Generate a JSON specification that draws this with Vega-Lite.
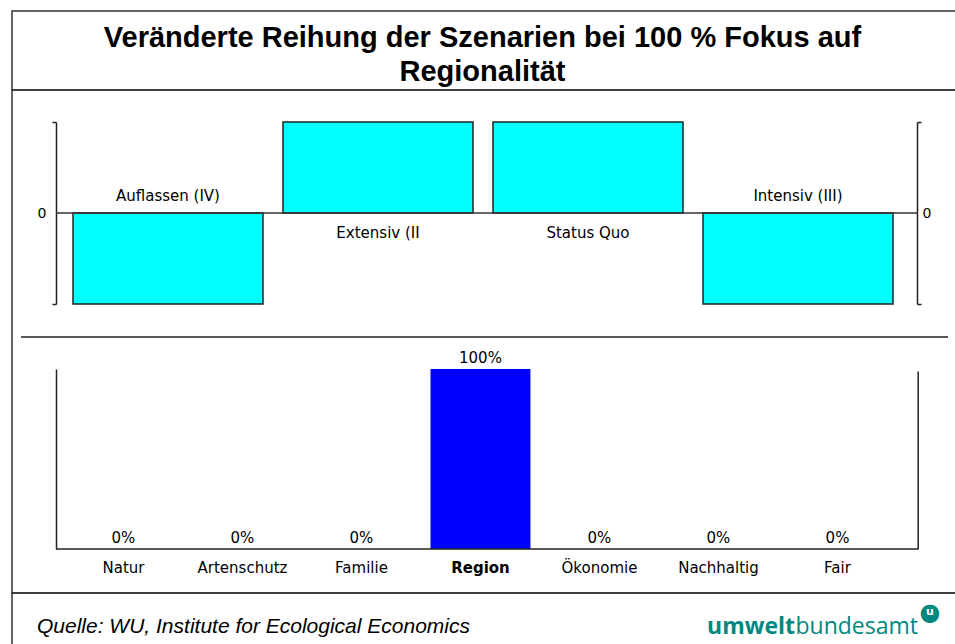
{
  "$schema": "https://vega.github.io/schema/vega-lite/v6.json",
  "padding": {"left": 11, "top": 10, "right": 0, "bottom": 0},
  "background": "white",
  "spacing": 0,
  "bounds": "flush",
  "config": {"view": {"stroke": "#333", "strokeWidth": 1.5}, "font": "DejaVu Sans"},
  "datasets": {
    "scen": [
      {"scenario": "Auflassen (IV)", "value": -1},
      {"scenario": "Extensiv (II", "value": 1},
      {"scenario": "Status Quo", "value": 1},
      {"scenario": "Intensiv (III)", "value": -1}
    ],
    "crit": [
      {"criterion": "Natur", "value": 0},
      {"criterion": "Artenschutz", "value": 0},
      {"criterion": "Familie", "value": 0},
      {"criterion": "Region", "value": 1},
      {"criterion": "Ökonomie", "value": 0},
      {"criterion": "Nachhaltig", "value": 0},
      {"criterion": "Fair", "value": 0}
    ]
  },
  "vconcat": [
    {
      "width": 950,
      "height": 79,
      "data": {"values": [{"title": ["Veränderte Reihung der Szenarien bei 100 % Fokus auf", "Regionalität"]}]},
      "mark": {"type": "text", "font": "Liberation Sans", "fontWeight": "bold", "fontSize": 29, "lineHeight": 34, "baseline": "middle", "align": "center", "dx": -4.5, "dy": -12.5, "color": "#000"},
      "encoding": {
        "x": {"datum": 0.5, "type": "quantitative", "scale": {"domain": [0, 1], "range": [0, 950]}, "axis": null},
        "text": {"field": "title"}
      }
    },
    {
      "width": 950,
      "height": 503,
      "resolve": {"scale": {"x": "independent", "y": "independent"}},
      "layer": [
        {
          "data": {"name": "scen"},
          "encoding": {
            "x": {"field": "scenario", "type": "nominal", "sort": null, "scale": {"range": [51, 891], "paddingInner": 0.0952, "paddingOuter": 0.0476}, "axis": null},
            "y": {"field": "value", "type": "quantitative", "scale": {"domain": [-1, 1], "range": [214, 32]},
              "axis": {"orient": "left", "offset": -44, "values": [-1, 0, 1], "labelExpr": "datum.value === 0 ? '0' : ''", "tickSize": 4, "tickColor": "#222", "tickWidth": 1.5,
                "tickOpacity": {"condition": {"test": "datum.value === 0", "value": 0}, "value": 1},
                "domainColor": "#222", "domainWidth": 1.5, "labelFont": "DejaVu Sans", "labelFontSize": 14, "labelColor": "#000", "labelPadding": 6, "grid": false, "title": null}}
          },
          "layer": [
            {"mark": {"type": "bar", "fill": "#00FFFF", "stroke": "#222", "strokeWidth": 1.5}},
            {"transform": [{"filter": "datum.value < 0"}], "mark": {"type": "text", "dy": -17, "fontSize": 15, "color": "#000", "baseline": "middle"}, "encoding": {"y": {"datum": 0, "type": "quantitative"}, "text": {"field": "scenario"}}},
            {"transform": [{"filter": "datum.value > 0"}], "mark": {"type": "text", "dy": 20, "fontSize": 15, "color": "#000", "baseline": "middle"}, "encoding": {"y": {"datum": 0, "type": "quantitative"}, "text": {"field": "scenario"}}}
          ]
        },
        {
          "data": {"values": [{"line": "zero"}]},
          "mark": {"type": "rule", "stroke": "#333", "strokeWidth": 1.5},
          "encoding": {
            "x": {"datum": 0, "type": "quantitative", "scale": {"domain": [0, 1], "range": [44, 905]}, "axis": null},
            "x2": {"datum": 1},
            "y": {"datum": 0, "type": "quantitative", "scale": {"domain": [-1, 1], "range": [214, 32]},
              "axis": {"orient": "right", "offset": -45, "values": [-1, 0, 1], "labelExpr": "datum.value === 0 ? '0' : ''", "tickSize": 4, "tickColor": "#222", "tickWidth": 1.5,
                "tickOpacity": {"condition": {"test": "datum.value === 0", "value": 0}, "value": 1},
                "domainColor": "#222", "domainWidth": 1.5, "labelFont": "DejaVu Sans", "labelFontSize": 14, "labelColor": "#000", "labelPadding": 1, "grid": false, "title": null}}
          }
        },
        {
          "data": {"values": [{"line": "separator"}]},
          "mark": {"type": "rule", "stroke": "#222", "strokeWidth": 1.5},
          "encoding": {
            "x": {"datum": 0, "type": "quantitative", "scale": {"domain": [0, 1], "range": [9, 936]}, "axis": null},
            "x2": {"datum": 1},
            "y": {"datum": 1, "type": "quantitative", "scale": {"domain": [0, 1], "range": [503, 247]}, "axis": null}
          }
        },
        {
          "data": {"name": "crit"},
          "encoding": {
            "x": {"field": "criterion", "type": "nominal", "sort": null, "scale": {"range": [44, 906], "paddingInner": 0.16, "paddingOuter": 0.2018, "align": 0.364}, "axis": null},
            "y": {"field": "value", "type": "quantitative", "scale": {"domain": [0, 1], "range": [459, 279]},
              "axis": {"orient": "left", "offset": -44, "ticks": false, "labels": false, "grid": false, "title": null, "domainColor": "#222", "domainWidth": 1.5}}
          },
          "layer": [
            {"mark": {"type": "bar", "fill": "#0000FF"}},
            {"mark": {"type": "text", "dy": -11, "fontSize": 15, "color": "#000", "baseline": "middle"}, "encoding": {"text": {"field": "value", "type": "quantitative", "format": ".0%"}}},
            {"transform": [{"filter": "datum.criterion !== 'Region'"}], "mark": {"type": "text", "dy": 19, "fontSize": 15, "color": "#000", "baseline": "middle"}, "encoding": {"y": {"datum": 0, "type": "quantitative"}, "text": {"field": "criterion"}}},
            {"transform": [{"filter": "datum.criterion === 'Region'"}], "mark": {"type": "text", "dy": 19, "fontSize": 15, "fontWeight": "bold", "color": "#000", "baseline": "middle"}, "encoding": {"y": {"datum": 0, "type": "quantitative"}, "text": {"field": "criterion"}}}
          ]
        },
        {
          "data": {"values": [{"line": "baseline"}]},
          "mark": {"type": "rule", "stroke": "#222", "strokeWidth": 1.5},
          "encoding": {
            "x": {"datum": 0, "type": "quantitative", "scale": {"domain": [0, 1], "range": [44, 906]}, "axis": null},
            "x2": {"datum": 1},
            "y": {"datum": 0, "type": "quantitative", "scale": {"domain": [0, 1], "range": [459, 281]},
              "axis": {"orient": "right", "offset": -44.3, "ticks": false, "labels": false, "grid": false, "title": null, "domainColor": "#222", "domainWidth": 1.5}}
          }
        }
      ]
    },
    {
      "width": 950,
      "height": 68,
      "encoding": {"x": {"datum": 0, "type": "quantitative", "scale": {"domain": [0, 1], "range": [25, 906]}, "axis": null}},
      "layer": [
        {"data": {"values": [{"source": "Quelle: WU, Institute for Ecological Economics"}]},
          "mark": {"type": "text", "align": "left", "baseline": "middle", "font": "Liberation Sans", "fontStyle": "italic", "fontSize": 21, "color": "#000"},
          "encoding": {"text": {"field": "source"}}},
        {"data": {"values": [{"logo": "bundesamt"}]},
          "mark": {"type": "text", "align": "right", "baseline": "middle", "font": "Open Sans", "fontSize": 23, "color": "#00877F"},
          "encoding": {"x": {"datum": 1, "type": "quantitative"}, "text": {"field": "logo"}}},
        {"data": {"values": [{"logo": "umwelt"}]},
          "mark": {"type": "text", "align": "right", "baseline": "middle", "font": "Open Sans", "fontWeight": "bold", "fontSize": 23, "color": "#00877F", "dx": -123},
          "encoding": {"x": {"datum": 1, "type": "quantitative"}, "text": {"field": "logo"}}},
        {"data": {"values": [{"logo": "●"}]},
          "mark": {"type": "text", "align": "center", "baseline": "middle", "font": "DejaVu Sans", "fontSize": 24, "color": "#00877F", "dx": 12, "dy": -14},
          "encoding": {"x": {"datum": 1, "type": "quantitative"}, "text": {"field": "logo"}}},
        {"data": {"values": [{"logo": "u"}]},
          "mark": {"type": "text", "align": "center", "baseline": "middle", "font": "DejaVu Sans", "fontWeight": "bold", "fontSize": 11, "color": "#FFFFFF", "dx": 12, "dy": -15},
          "encoding": {"x": {"datum": 1, "type": "quantitative"}, "text": {"field": "logo"}}}
      ]
    }
  ]
}
